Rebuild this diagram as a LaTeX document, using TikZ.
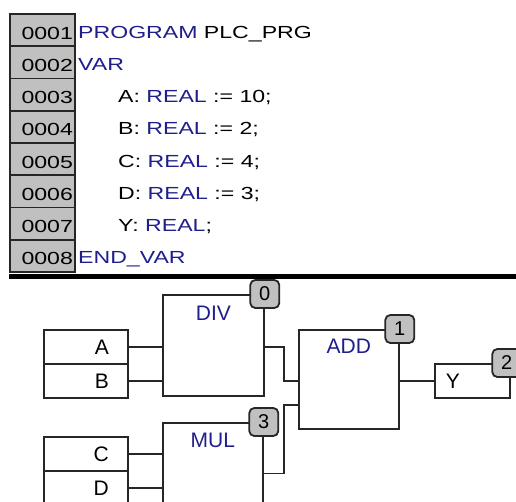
\documentclass[tikz,border=0pt]{standalone}
\usepackage{fontspec}
\setmainfont{Liberation Sans}
\newfontfamily\codefont[FakeStretch=1.32]{Liberation Sans}
\usepackage{xcolor}
\definecolor{kwblue}{RGB}{30,30,140}
\definecolor{cellgray}{RGB}{192,192,192}
\usetikzlibrary{positioning}

\begin{document}
\begin{tikzpicture}[x=1pt,y=-1pt,
 lineno/.style={draw=black!85,line width=1.8pt,fill=cellgray,anchor=north west,inner sep=0pt,
   minimum width=65pt,minimum height=32.25pt,text width=61pt,align=right,text height=18pt,text depth=0pt,
   font=\codefont\fontsize{17.5pt}{20pt}\selectfont},
 codeline/.style={anchor=base west,inner sep=0pt,font=\codefont\fontsize{17.5pt}{20pt}\selectfont},
 fbd/.style={draw=black!85,line width=1.8pt,fill=white,anchor=north west,inner sep=0pt,
   font=\fontsize{21pt}{24pt}\selectfont},
 var/.style={fbd,minimum width=84pt,minimum height=34pt,text width=46pt,align=right},
 fname/.style={anchor=base,inner sep=0pt,text=kwblue,font=\fontsize{21pt}{24pt}\selectfont},
 badge/.style={draw=black!85,line width=1.8pt,fill=cellgray,rounded corners=5pt,inner sep=0pt,
   minimum width=29pt,minimum height=28pt,font=\fontsize{20pt}{24pt}\selectfont},
 wire/.style={line width=1.8pt,draw=black!85}]
\useasboundingbox (0,0) rectangle (516,501);
\clip (0,0) rectangle (516,501);

% declaration part
\foreach \i/\ind/\txt in {1/0/{\textcolor{kwblue}{PROGRAM} PLC\_PRG},
  2/0/{\textcolor{kwblue}{VAR}},
  3/40/{A: \textcolor{kwblue}{REAL} := 10;},
  4/40/{B: \textcolor{kwblue}{REAL} := 2;},
  5/40/{C: \textcolor{kwblue}{REAL} := 4;},
  6/40/{D: \textcolor{kwblue}{REAL} := 3;},
  7/40/{Y: \textcolor{kwblue}{REAL};},
  8/0/{\textcolor{kwblue}{END\_VAR}}}
{
 \node[lineno] (ln\i) at (9,{13+(\i-1)*32.25}) {000\i};
 \node[codeline] (code\i) at ({78+\ind},{38+(\i-1)*32.25}) {\txt};
}
\draw[line width=5pt] (9,276) -- (516,276);

% FBD network
\node[fbd,minimum width=101pt,minimum height=101pt] (div) at (162,294) {};
\node[fbd,minimum width=100pt,minimum height=101pt] (mul) at (162,422) {};
\node[fbd,minimum width=100pt,minimum height=99pt] (add) at (298,329) {};
\node[fname] (divname) at ([yshift=-26pt]div.north) {DIV};
\node[fname] (mulname) at ([yshift=-25pt]mul.north) {MUL};
\node[fname] (addname) at ([yshift=-24pt]add.north) {ADD};

\node[var] (ina) at (43,329) {A};
\node[var] (inb) at (43,363) {B};
\node[var] (inc) at (43,436) {C};
\node[var] (ind) at (43,470) {D};
\node[var,minimum width=75pt,text width=53pt,align=left] (outy) at (434,363) {Y};
\coordinate (addin2) at (298,405);

\draw[wire] (ina.east) -- (ina.east -| div.west);
\draw[wire] (inb.east) -- (inb.east -| div.west);
\draw[wire] (inc.east) -- (inc.east -| mul.west);
\draw[wire] (ind.east) -- (ind.east -| mul.west);
\draw[wire] (div.east |- ina.east) -- ++(19,0) |- (add.west |- inb.east);
\draw[wire] (mul.east) -- ++(20,0) |- (addin2);
\draw[wire] (outy.west -| add.east) -- (outy.west);

\node[badge] (b0) at (div.north east) {0};
\node[badge] (b1) at (add.north east) {1};
\node[badge] (b2) at ([xshift=-4pt]outy.north east) {2};
\node[badge] (b3) at (mul.north east) {3};
\end{tikzpicture}
\end{document}
